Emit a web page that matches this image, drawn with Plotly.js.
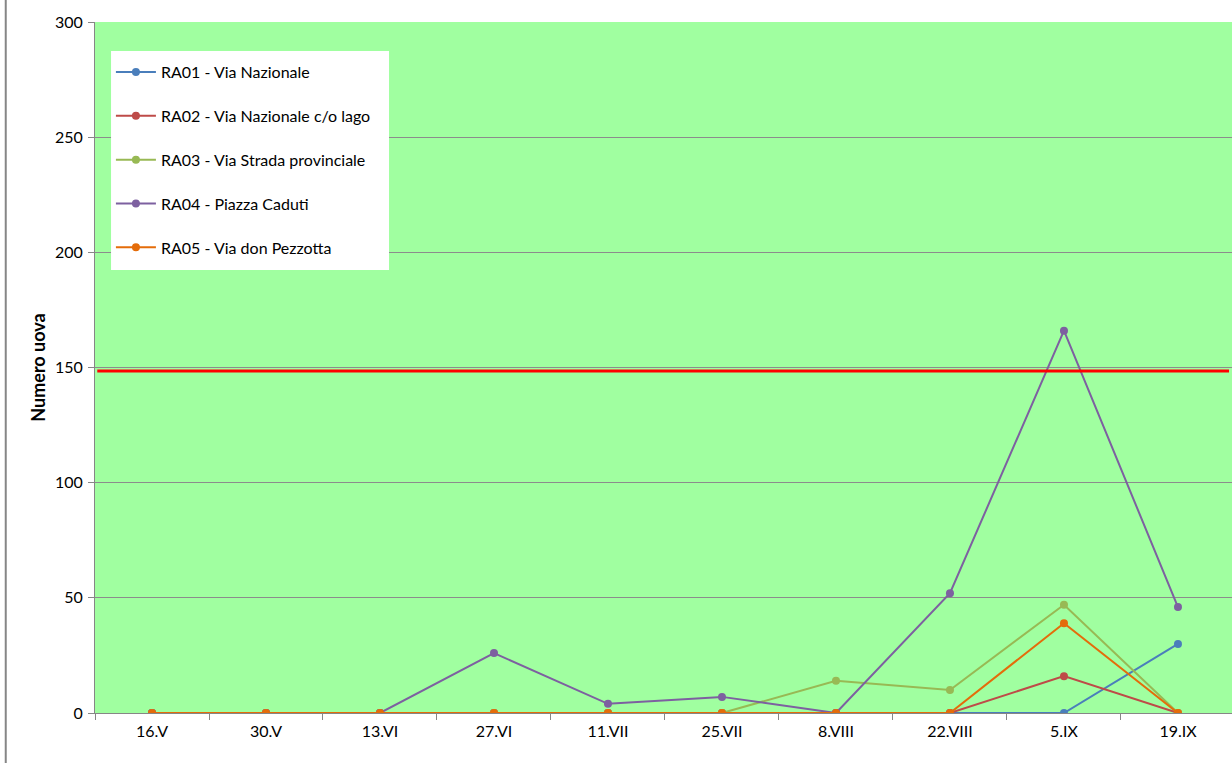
<!DOCTYPE html>
<html><head><meta charset="utf-8">
<script src="https://cdn.plot.ly/plotly-3.0.1.min.js"></script>
<style>html,body{margin:0;padding:0;background:#fff;}#chart{width:1232px;height:763px;}</style>
</head><body><div id="chart"></div>
<script>
const categories = ["16.V","30.V","13.VI","27.VI","11.VII","25.VII","8.VIII","22.VIII","5.IX","19.IX"];
const seriesNames = ["RA01 - Via Nazionale","RA02 - Via Nazionale c/o lago","RA03 - Via Strada provinciale","RA04 - Piazza Caduti","RA05 - Via don Pezzotta"];
const ra01 = [0,0,0,0,0,0,0,0,0,30];
const ra02 = [0,0,0,0,0,0,0,0,16,0];
const ra03 = [0,0,0,0,0,0,14,10,47,0];
const ra04 = [0,0,0,26,4,7,0,52,166,46];
const ra05 = [0,0,0,0,0,0,0,0,39,0];
const threshold = 148.5;
const colors = ["#4A7EBB","#BE4B48","#98B954","#7D60A0","#E46C0A"];
const allSeries = [ra01,ra02,ra03,ra04,ra05];

const traces = allSeries.map((vals,i)=>({
  x: categories, y: vals, name: seriesNames[i], type:"scatter", mode:"lines+markers",
  line:{color:colors[i], width:2}, marker:{color:colors[i], size:8},
  legendgroup:"g"+i, hoverinfo:"skip"
}));

const layout = {
  width:1232, height:763,
  margin:{l:95, r:0, t:22, b:50},
  paper_bgcolor:"#ffffff", plot_bgcolor:"#A0FFA0",
  font:{family:"Lato, 'Open Sans', sans-serif", color:"#000"},
  showlegend:true,
  legend:{x:0.014, y:0.952, xanchor:"left", yanchor:"top", bgcolor:"rgba(0,0,0,0)",
    font:{size:16, family:"Lato, sans-serif", color:"#000"}, tracegroupgap:20,
    borderwidth:0, itemwidth:40},
  xaxis:{type:"category", range:[-0.5, 9.474], showgrid:false, tickson:"boundaries",
    ticks:"outside", ticklen:6, tickcolor:"#868686", showline:true, linecolor:"#868686", linewidth:1,
    ticklabelstandoff:4,
    tickfont:{size:16, family:"Lato, sans-serif", color:"#000"}, fixedrange:true},
  yaxis:{range:[0,300], dtick:50, showgrid:true, gridcolor:"#8C8C8C", gridwidth:1,
    ticks:"outside", ticklen:6, tickcolor:"#868686", showline:true, linecolor:"#868686",
    ticklabelstandoff:2,
    tickfont:{size:16, family:"Lato, sans-serif", color:"#000"}, zeroline:false,
    title:{text:"<b>Numero uova</b>", font:{size:18, family:"Lato, sans-serif", color:"#000"}, standoff:4}},
  shapes:[
    {type:"line", xref:"paper", yref:"y", x0:0.002, x1:0.9974, y0:threshold, y1:threshold, line:{color:"#FF0000", width:3}},
    {type:"rect", xref:"paper", yref:"paper", x0:0.0141, x1:0.2586, y0:0.6411, y1:0.958, fillcolor:"#ffffff", line:{width:0}, layer:"above"},
    {type:"line", xref:"paper", yref:"paper", x0:-0.0785, x1:-0.0785, y0:-0.08, y1:1.04, line:{color:"#868686", width:2}}
  ]
};
Plotly.newPlot("chart", traces, layout, {staticPlot:true});
</script></body></html>
